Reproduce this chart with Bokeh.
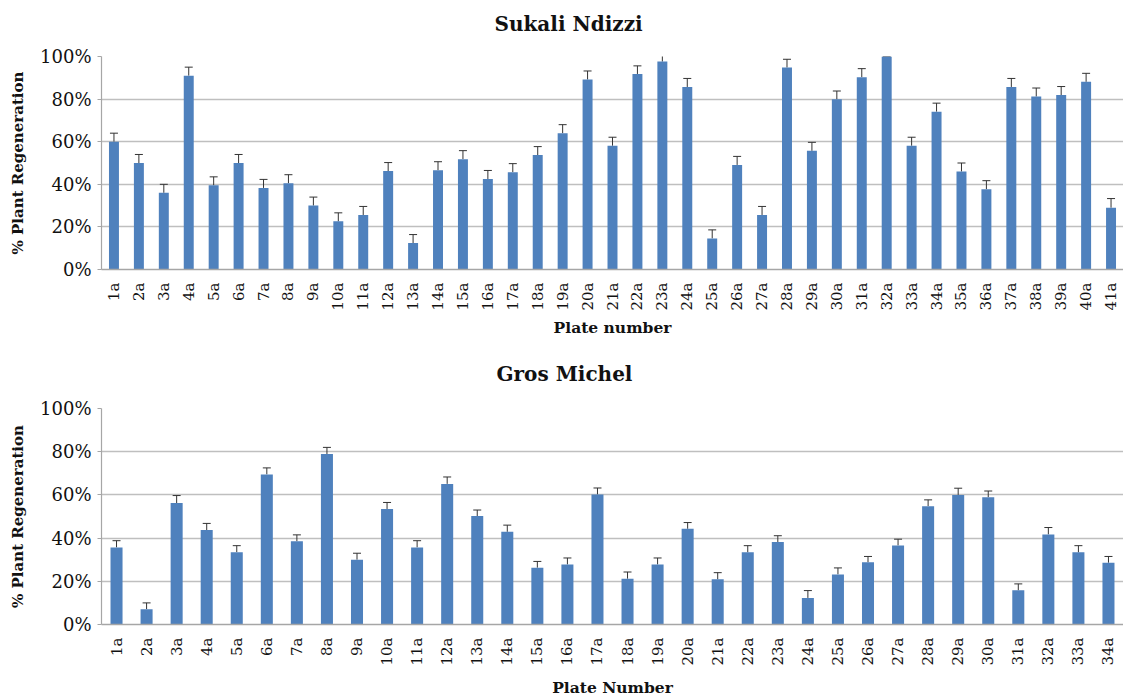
from bokeh.plotting import figure
from bokeh.models import (FactorRange, ColumnDataSource, Whisker, TeeHead,
                          FixedTicker, NumeralTickFormatter, Title)
from bokeh.layouts import column
from bokeh.embed import file_html
from bokeh.resources import INLINE

# ---- data ----
sukali_plates = ["1a", "2a", "3a", "4a", "5a", "6a", "7a", "8a", "9a", "10a",
                 "11a", "12a", "13a", "14a", "15a", "16a", "17a", "18a", "19a", "20a",
                 "21a", "22a", "23a", "24a", "25a", "26a", "27a", "28a", "29a", "30a",
                 "31a", "32a", "33a", "34a", "35a", "36a", "37a", "38a", "39a", "40a", "41a"]
sukali_regen = [0.60, 0.50, 0.36, 0.91, 0.395, 0.50, 0.383, 0.405, 0.30, 0.226,
                0.256, 0.462, 0.124, 0.466, 0.518, 0.425, 0.457, 0.537, 0.64, 0.892,
                0.581, 0.918, 0.976, 0.857, 0.146, 0.491, 0.256, 0.948, 0.557, 0.799,
                0.903, 1.00, 0.581, 0.741, 0.46, 0.377, 0.857, 0.812, 0.819, 0.881, 0.29]
sukali_err = [0.04, 0.04, 0.04, 0.04, 0.04, 0.04, 0.04, 0.04, 0.04, 0.04,
              0.04, 0.04, 0.04, 0.04, 0.04, 0.04, 0.04, 0.04, 0.04, 0.04,
              0.04, 0.038, 0.04, 0.04, 0.04, 0.04, 0.04, 0.039, 0.04, 0.039,
              0.04, 0.0, 0.04, 0.04, 0.04, 0.04, 0.04, 0.04, 0.04, 0.04, 0.043]

gros_plates = ["1a", "2a", "3a", "4a", "5a", "6a", "7a", "8a", "9a", "10a",
               "11a", "12a", "13a", "14a", "15a", "16a", "17a", "18a", "19a", "20a",
               "21a", "22a", "23a", "24a", "25a", "26a", "27a", "28a", "29a", "30a",
               "31a", "32a", "33a", "34a"]
gros_regen = [0.357, 0.071, 0.562, 0.437, 0.335, 0.695, 0.385, 0.789, 0.30, 0.535,
              0.357, 0.651, 0.502, 0.429, 0.263, 0.278, 0.602, 0.212, 0.278, 0.443,
              0.209, 0.334, 0.382, 0.123, 0.232, 0.288, 0.366, 0.548, 0.60, 0.589,
              0.158, 0.417, 0.334, 0.286]
gros_err = [0.031, 0.029, 0.035, 0.031, 0.03, 0.03, 0.03, 0.031, 0.03, 0.03,
            0.031, 0.032, 0.028, 0.031, 0.029, 0.03, 0.03, 0.031, 0.03, 0.029,
            0.031, 0.031, 0.029, 0.034, 0.03, 0.027, 0.029, 0.029, 0.031, 0.029,
            0.03, 0.032, 0.031, 0.029]

y_ticks = [0, 0.2, 0.4, 0.6, 0.8, 1.0]

BAR = "#4F81BD"
TXT = "#111111"
FONT = "DejaVu Serif"


def make_chart(title, xlabel, plates, vals, errs, height, top, bottom, left,
               title_offset, gap, xlabel_standoff):
    src = ColumnDataSource(dict(
        x=plates, top=vals,
        upper=[v + e for v, e in zip(vals, errs)],
    ))
    p = figure(x_range=FactorRange(*plates), y_range=(0, 1.0),
               width=1123, height=height, output_backend="svg",
               toolbar_location=None, min_border_left=left, min_border_right=0,
               min_border_top=top, min_border_bottom=bottom,
               background_fill_color="white", border_fill_color="white",
               outline_line_color=None)
    p.x_range.range_padding = 0
    p.x_range.factor_padding = 0

    p.vbar(x="x", top="top", width=0.4, source=src, fill_color=BAR,
           line_color=BAR, line_width=0)
    w = Whisker(base="x", upper="upper", lower="top", source=src,
                line_color="#333333", line_width=1,
                lower_head=None,
                upper_head=TeeHead(size=8, line_color="#333333", line_width=1))
    p.add_layout(w)

    # blank spacer between the frame and the title (nearest to the frame)
    spacer = Title(text=" ", text_font=FONT, text_font_size="10px", standoff=gap)
    p.add_layout(spacer, "above")
    t = Title(text=title, align="left", offset=title_offset, vertical_align="bottom",
              text_font=FONT, text_font_size="20px", text_font_style="bold",
              text_color=TXT, standoff=0)
    p.add_layout(t, "above")

    p.yaxis.ticker = FixedTicker(ticks=y_ticks)
    p.yaxis.formatter = NumeralTickFormatter(format="0%")
    p.yaxis.axis_line_color = "#A6A6A6"
    p.yaxis.axis_line_width = 1.2
    p.yaxis.major_tick_line_color = "#A6A6A6"
    p.yaxis.major_tick_out = 4
    p.yaxis.major_tick_in = 0
    p.yaxis.minor_tick_line_color = None
    p.yaxis.major_label_text_font = FONT
    p.yaxis.major_label_text_font_size = "18px"
    p.yaxis.major_label_text_color = TXT
    p.yaxis.major_label_standoff = 6
    p.yaxis.axis_label = "% Plant Regeneration"
    p.yaxis.axis_label_text_font = FONT
    p.yaxis.axis_label_text_font_size = "15px"
    p.yaxis.axis_label_text_font_style = "bold"
    p.yaxis.axis_label_text_color = TXT
    p.yaxis.axis_label_standoff = 10

    p.xaxis.axis_line_color = "#A6A6A6"
    p.xaxis.axis_line_width = 1.5
    p.xaxis.major_tick_line_color = None
    p.xaxis.minor_tick_line_color = None
    p.xaxis.major_label_orientation = 1.5708
    p.xaxis.major_label_text_font = FONT
    p.xaxis.major_label_text_font_size = "15px"
    p.xaxis.major_label_text_color = TXT
    p.xaxis.major_label_standoff = 7
    p.xaxis.axis_label = xlabel
    p.xaxis.axis_label_text_font = FONT
    p.xaxis.axis_label_text_font_size = "15.5px"
    p.xaxis.axis_label_text_font_style = "bold"
    p.xaxis.axis_label_text_color = TXT
    p.xaxis.axis_label_standoff = xlabel_standoff

    p.xgrid.grid_line_color = None
    p.ygrid.grid_line_color = "#BFBFBF"
    p.ygrid.grid_line_width = 1.5
    return p


p1 = make_chart("Sukali Ndizzi", "Plate number", sukali_plates, sukali_regen, sukali_err,
                350, 56, 81, 100, 393, 8, 4)
p2 = make_chart("Gros Michel", "Plate Number", gros_plates, gros_regen, gros_err,
                349, 58, 75, 101, 395, 10, 9)

layout = column(p1, p2, spacing=0)
open("out.html", "w").write(file_html(layout, INLINE))
